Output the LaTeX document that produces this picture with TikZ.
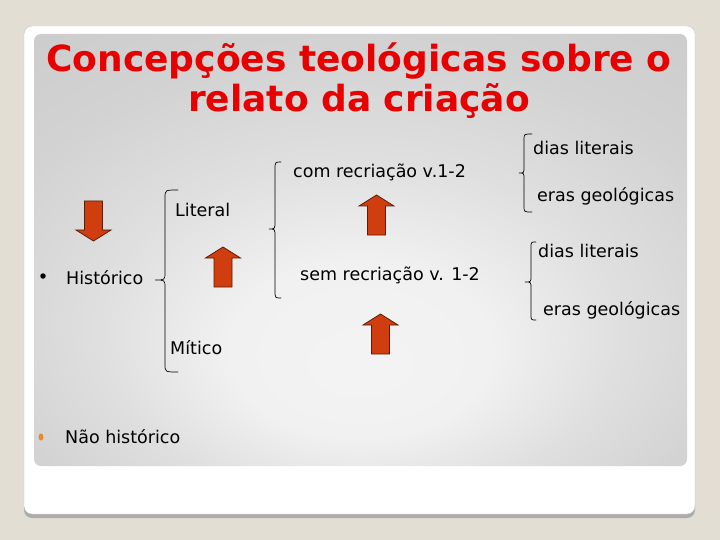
\documentclass[tikz,border=0pt]{standalone}
\usepackage{fontspec}
\setmainfont{DejaVu Sans}
\usetikzlibrary{positioning, shapes.geometric}

\definecolor{pagebg}{HTML}{E3DED4}
\definecolor{titlered}{HTML}{E80000}
\definecolor{arrowfill}{HTML}{D03D0E}
\definecolor{arrowline}{HTML}{5A1E08}
\definecolor{bulletorange}{HTML}{E8892C}

\pgfdeclareradialshading{panelshade}{\pgfpoint{0bp}{-14bp}}{%
  color(0bp)=(gray!9); color(10bp)=(gray!11); color(20bp)=(gray!25);
  color(30bp)=(gray!35); color(40bp)=(gray!40); color(60bp)=(gray!42)}

\tikzset{
  uparrow/.pic={\path[blockarrow] (0,0) -- (17.5,11) -- (9,11) -- (9,40)
                 -- (-9,40) -- (-9,11) -- (-17.5,11) -- cycle;}
}

% brace: end x, line x, tip x, top y, tip y, bottom y, curl
\newcommand{\curlybrace}[7]{%
  \draw[bracestyle] (#1,#4) .. controls (#2,#4) .. (#2,#4+#7) -- (#2,#5-#7)
    .. controls (#2,#5) .. (#3,#5) .. controls (#2,#5) .. (#2,#5+#7)
    -- (#2,#6-#7) .. controls (#2,#6) .. (#1,#6);}

\begin{document}
\begin{tikzpicture}[x=1pt, y=-1pt,
    txt/.style={anchor=base west, inner sep=0pt, font=\fontsize{17.5}{20}\selectfont},
    heading/.style={anchor=base, inner sep=0pt, text=titlered,
                    font=\fontsize{36}{40}\selectfont\bfseries},
    blockarrow/.style={fill=arrowfill, draw=arrowline, line width=0.8pt, line join=miter},
    bracestyle/.style={line width=0.7pt, line cap=round}]

% Page and slide
\useasboundingbox[fill=pagebg] (0,0) rectangle (720,540);
\fill[gray!65, rounded corners=8pt] (24,30) rectangle (695,518);
\filldraw[fill=white, draw=gray!45, rounded corners=8pt] (24,26) rectangle (695,514);
\shade[shading=panelshade, rounded corners=7pt] (34,34) rectangle (687,466);

% Title
\node[heading] (title1) at (359,72) {Concepções teológicas sobre o};
\node[heading] (title2) at (359,112) {relato da criação};

% Texts
\node[txt] (historico) at (66,284) {Histórico};
\node[txt] (literal) at (175,217) {Literal};
\node[txt] (mitico) at (170,354) {Mítico};
\node[txt] (comrec) at (293,178) {com recriação v.1-2};
\node[txt] (semrec) at (300,280) {sem recriação v. 1-2};
\node[txt] (dias1) at (533,155) {dias literais};
\node[txt] (eras1) at (537,202) {eras geológicas};
\node[txt] (dias2) at (538,258) {dias literais};
\node[txt] (eras2) at (543,315) {eras geológicas};
\node[txt] (naohist) at (65,443) {Não histórico};

% Bullets
\node[circle, fill=black, inner sep=0pt, minimum size=5.5pt] (dot1) at (43,276) {};
\node[ellipse, fill=bulletorange, inner sep=0pt, minimum width=5pt, minimum height=7pt] (dot2) at (41,437) {};

% Braces
\curlybrace{178}{165}{155}{190}{280}{372}{8}
\curlybrace{281}{275}{269}{162}{229}{298}{8}
\curlybrace{532}{524}{519}{134}{173}{212}{6}
\curlybrace{536}{531}{525}{242}{282}{320}{6}

% Block arrows
\pic[yscale=-1] (arrowA) at (93.5,241) {uparrow};
\pic (arrowB) at (223,247) {uparrow};
\pic (arrowC) at (376.5,195) {uparrow};
\pic (arrowD) at (380.5,314) {uparrow};

\end{tikzpicture}
\end{document}
